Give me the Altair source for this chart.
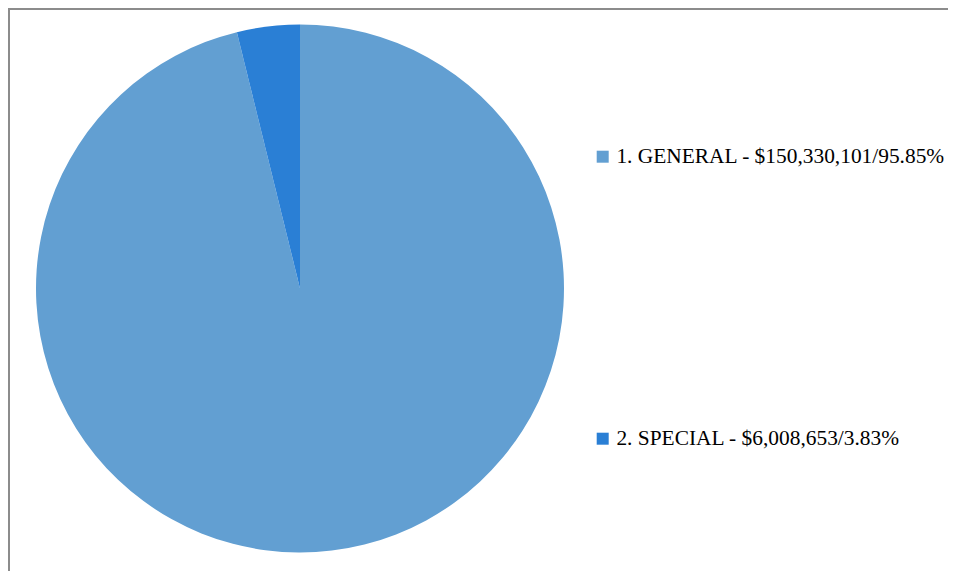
import altair as alt
import pandas as pd

categories = ["1. GENERAL", "2. SPECIAL"]
amounts = [150330101, 6008653]
amount_labels = ["$150,330,101", "$6,008,653"]
percents = ["95.85%", "3.83%"]
colors = ["#629FD2", "#2A7FD5"]

labels = [f"{c} - {a}/{p}" for c, a, p in zip(categories, amount_labels, percents)]
df = pd.DataFrame({"label": labels, "value": amounts, "order": [0, 1]})

W, H = 940, 563

pie = alt.Chart(df).mark_arc(radius=264, stroke=None).encode(
    theta=alt.Theta("value:Q", stack=True),
    order=alt.Order("order:Q"),
    color=alt.Color(
        "label:N",
        scale=alt.Scale(domain=labels, range=colors),
        sort=labels,
        legend=alt.Legend(
            orient="none",
            legendX=584,
            legendY=138,
            title=None,
            symbolType="square",
            symbolSize=144,
            symbolStrokeWidth=0,
            labelFont="Liberation Serif",
            labelFontSize=21.4,
            labelColor="#000000",
            labelOffset=3,
            labelLimit=0,
            rowPadding=259,
            padding=0,
        ),
    ),
    x=alt.value(292),
    y=alt.value(280.5),
)

border_df = pd.DataFrame({"k": [0]})
top_line = alt.Chart(border_df).mark_rule(color="#8C8C8C", strokeWidth=2).encode(
    x=alt.value(0), x2=alt.value(W), y=alt.value(1)
)
left_line = alt.Chart(border_df).mark_rule(color="#8C8C8C", strokeWidth=2).encode(
    x=alt.value(1), y=alt.value(0), y2=alt.value(H)
)

chart = alt.layer(pie, top_line, left_line).properties(
    width=W, height=H, padding=0, autosize=alt.AutoSizeParams(type="none")
).configure_view(stroke=None)

chart.save("out.html", embed_options={"renderer": "svg", "actions": False})
